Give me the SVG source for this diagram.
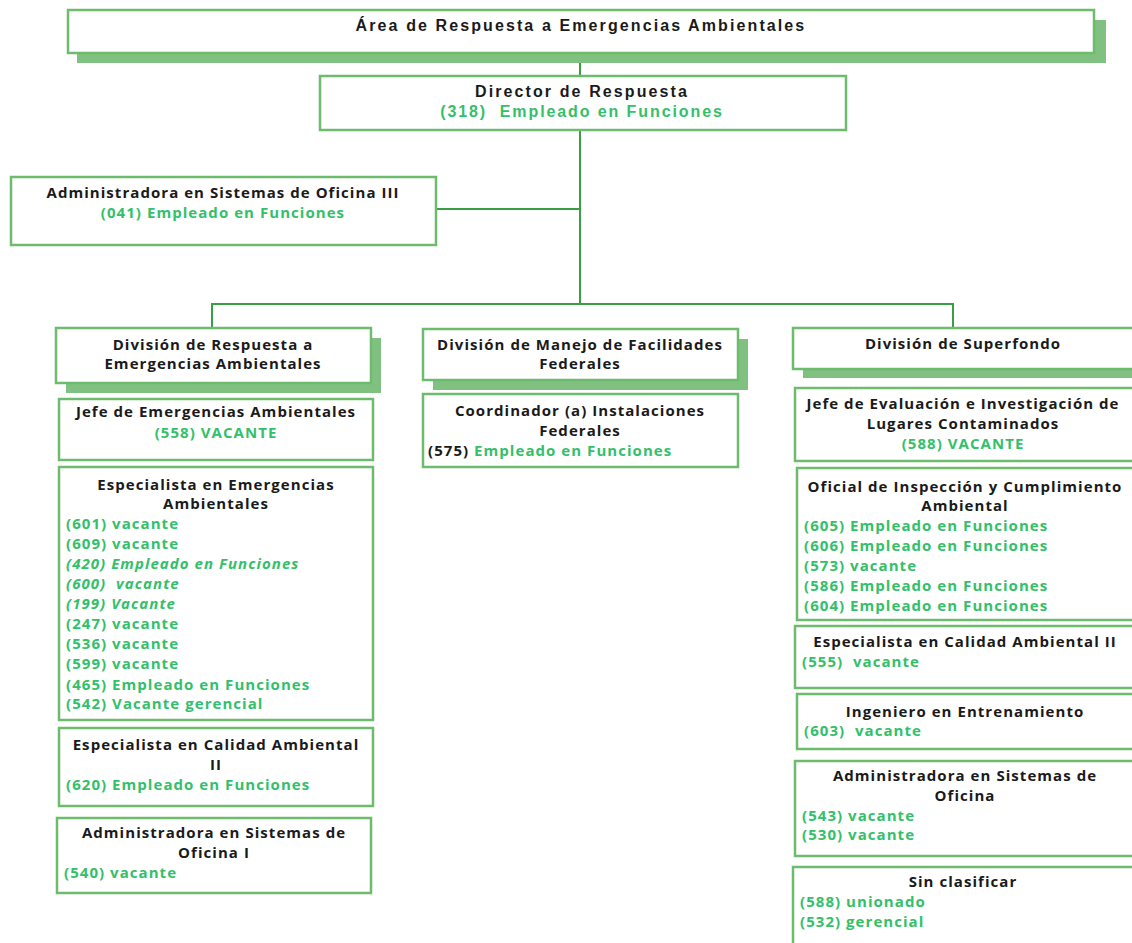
<svg xmlns="http://www.w3.org/2000/svg" width="1132" height="943" viewBox="0 0 1132 943">
<style>
.box{fill:#fff;stroke:#6dbb6d;stroke-width:2.5}
.sh{fill:#80c080}
.ln{stroke:#3a9e45;stroke-width:2;fill:none}
.ta{font-family:"Liberation Sans",Arial,sans-serif;font-weight:bold;font-size:16px;letter-spacing:2.1px;fill:#1a1a1a}
.tag{font-family:"Liberation Sans",Arial,sans-serif;font-weight:bold;font-size:16px;letter-spacing:1.9px;fill:#33c06a}
.t{font-family:"Open Sans","Noto Sans",sans-serif;font-weight:700;font-size:15px;letter-spacing:1.05px;fill:#1a1a1a}
.g{font-family:"Open Sans","Noto Sans",sans-serif;font-weight:700;font-size:15px;letter-spacing:1.05px;fill:#33c06a}
.i{font-style:italic}
.c{text-anchor:middle}
</style>
<rect width="1132" height="943" fill="#fff"/>
<g id="connectors">
<line class="ln" x1="580" y1="53" x2="580" y2="76"/>
<line class="ln" x1="580" y1="130" x2="580" y2="304"/>
<line class="ln" x1="436" y1="209" x2="580" y2="209"/>
<polyline class="ln" points="212,328 212,304 953,304 953,328"/>
</g>
<g id="area">
<rect class="sh" x="77" y="20" width="1029" height="43"/>
<rect class="box" x="68" y="10" width="1026" height="43"/>
<text class="ta c" x="581" y="31">Área de Respuesta a Emergencias Ambientales</text>
</g>
<g id="director">
<rect class="box" x="320" y="76" width="526" height="54"/>
<text class="ta c" x="582" y="97">Director de Respuesta</text>
<text class="tag c" x="582" y="117" xml:space="preserve">(318)  Empleado en Funciones</text>
</g>
<g id="admin3">
<rect class="box" x="11" y="177" width="425" height="68"/>
<text class="t c" x="223" y="198">Administradora en Sistemas de Oficina III</text>
<text class="g c" x="223" y="218">(041) Empleado en Funciones</text>
</g>
<g id="div-respuesta">
<rect class="sh" x="66" y="338" width="315" height="55"/>
<rect class="box" x="56" y="328" width="315" height="55"/>
<text class="t c" x="213" y="350">División de Respuesta a</text>
<text class="t c" x="213" y="369">Emergencias Ambientales</text>
</g>
<g id="jefe-emergencias">
<rect class="box" x="59" y="399" width="314" height="61"/>
<text class="t c" x="216" y="417">Jefe de Emergencias Ambientales</text>
<text class="g c" x="216" y="438">(558) VACANTE</text>
</g>
<g id="especialista-emergencias">
<rect class="box" x="59" y="467" width="314" height="253"/>
<text class="t c" x="216" y="490">Especialista en Emergencias</text>
<text class="t c" x="216" y="509">Ambientales</text>
<text class="g" x="66" y="529">(601) vacante</text>
<text class="g" x="66" y="549">(609) vacante</text>
<text class="g i" x="66" y="569">(420) Empleado en Funciones</text>
<text class="g i" x="66" y="589" xml:space="preserve">(600)  vacante</text>
<text class="g i" x="66" y="609">(199) Vacante</text>
<text class="g" x="66" y="629">(247) vacante</text>
<text class="g" x="66" y="649">(536) vacante</text>
<text class="g" x="66" y="669">(599) vacante</text>
<text class="g" x="66" y="690">(465) Empleado en Funciones</text>
<text class="g" x="66" y="709">(542) Vacante gerencial</text>
</g>
<g id="especialista-calidad-1">
<rect class="box" x="59" y="728" width="314" height="78"/>
<text class="t c" x="216" y="750">Especialista en Calidad Ambiental</text>
<text class="t c" x="216" y="770">II</text>
<text class="g" x="66" y="790">(620) Empleado en Funciones</text>
</g>
<g id="admin1">
<rect class="box" x="57" y="818" width="314" height="75"/>
<text class="t c" x="214" y="838">Administradora en Sistemas de</text>
<text class="t c" x="214" y="858">Oficina I</text>
<text class="g" x="64" y="878">(540) vacante</text>
</g>
<g id="div-facilidades">
<rect class="sh" x="433" y="339" width="315" height="51"/>
<rect class="box" x="423" y="329" width="315" height="51"/>
<text class="t c" x="580" y="350">División de Manejo de Facilidades</text>
<text class="t c" x="580" y="369">Federales</text>
</g>
<g id="coordinador">
<rect class="box" x="423" y="394" width="315" height="73"/>
<text class="t c" x="580" y="416">Coordinador (a) Instalaciones</text>
<text class="t c" x="580" y="436">Federales</text>
<text x="428" y="456"><tspan class="t">(575) </tspan><tspan class="g">Empleado en Funciones</tspan></text>
</g>
<g id="div-superfondo">
<rect class="sh" x="803" y="338" width="340" height="40"/>
<rect class="box" x="793" y="328" width="350" height="41"/>
<text class="t c" x="963" y="349">División de Superfondo</text>
</g>
<g id="jefe-evaluacion">
<rect class="box" x="795" y="388" width="348" height="73"/>
<text class="t c" x="963" y="409">Jefe de Evaluación e Investigación de</text>
<text class="t c" x="963" y="429">Lugares Contaminados</text>
<text class="g c" x="963" y="449">(588) VACANTE</text>
</g>
<g id="oficial">
<rect class="box" x="797" y="468" width="346" height="152"/>
<text class="t c" x="965" y="492">Oficial de Inspección y Cumplimiento</text>
<text class="t c" x="965" y="511">Ambiental</text>
<text class="g" x="804" y="531">(605) Empleado en Funciones</text>
<text class="g" x="804" y="551">(606) Empleado en Funciones</text>
<text class="g" x="804" y="571">(573) vacante</text>
<text class="g" x="804" y="591">(586) Empleado en Funciones</text>
<text class="g" x="804" y="611">(604) Empleado en Funciones</text>
</g>
<g id="especialista-calidad-2">
<rect class="box" x="795" y="626" width="348" height="62"/>
<text class="t c" x="965" y="647">Especialista en Calidad Ambiental II</text>
<text class="g" x="802" y="667" xml:space="preserve">(555)  vacante</text>
</g>
<g id="ingeniero">
<rect class="box" x="797" y="694" width="346" height="55"/>
<text class="t c" x="965" y="717">Ingeniero en Entrenamiento</text>
<text class="g" x="804" y="736" xml:space="preserve">(603)  vacante</text>
</g>
<g id="admin-superfondo">
<rect class="box" x="795" y="761" width="348" height="95"/>
<text class="t c" x="965" y="781">Administradora en Sistemas de</text>
<text class="t c" x="965" y="801">Oficina</text>
<text class="g" x="802" y="821">(543) vacante</text>
<text class="g" x="802" y="840">(530) vacante</text>
</g>
<g id="sin-clasificar">
<rect class="box" x="793" y="867" width="350" height="90"/>
<text class="t c" x="963" y="887">Sin clasificar</text>
<text class="g" x="800" y="907">(588) unionado</text>
<text class="g" x="800" y="927">(532) gerencial</text>
</g>
</svg>
